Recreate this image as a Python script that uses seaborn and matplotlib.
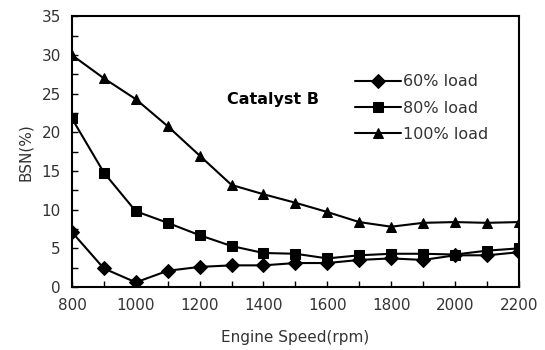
import matplotlib
matplotlib.use("Agg")
import matplotlib.pyplot as plt
from matplotlib.ticker import MultipleLocator
import seaborn as sns
import pandas as pd

speeds = [800, 900, 1000, 1100, 1200, 1300, 1400, 1500, 1600, 1700, 1800, 1900, 2000, 2100, 2200]
load_60 = [7.1, 2.4, 0.6, 2.1, 2.6, 2.8, 2.8, 3.1, 3.1, 3.5, 3.7, 3.5, 4.1, 4.1, 4.5]
load_80 = [21.8, 14.8, 9.8, 8.3, 6.7, 5.3, 4.4, 4.3, 3.7, 4.1, 4.3, 4.3, 4.2, 4.7, 5.0]
load_100 = [30.0, 27.0, 24.3, 20.8, 17.0, 13.2, 12.0, 10.9, 9.7, 8.4, 7.8, 8.3, 8.4, 8.3, 8.4]
series_names = ["60% load", "80% load", "100% load"]
x_label = "Engine Speed(rpm)"
y_label = "BSN(%)"
annotation = "Catalyst B"

df = pd.concat([
    pd.DataFrame({"speed": speeds, "bsn": vals, "load": name})
    for name, vals in zip(series_names, [load_60, load_80, load_100])
])

sns.set_theme(style="white")
plt.rcParams["font.family"] = ["DejaVu Sans"]

fig, ax = plt.subplots(figsize=(5.45, 3.5), dpi=100)
fig.subplots_adjust(left=0.132, right=0.952, top=0.953, bottom=0.18)

sns.lineplot(data=df, x="speed", y="bsn", hue="load", style="load",
             markers=["D", "s", "^"], dashes=False,
             palette=["black"] * 3, linewidth=1.5, markersize=7,
             markeredgecolor="black", ax=ax)

ax.set_xlim(800, 2200)
ax.set_ylim(0, 35)
ax.xaxis.set_major_locator(MultipleLocator(200))
ax.xaxis.set_minor_locator(MultipleLocator(100))
ax.yaxis.set_major_locator(MultipleLocator(5))
ax.yaxis.set_minor_locator(MultipleLocator(2.5))
ax.tick_params(which="both", direction="in", length=4, width=1, color="black",
               bottom=True, left=True, labelsize=11, labelcolor="#333333", pad=8)
for s in ax.spines.values():
    s.set_color("black")
    s.set_linewidth(1.5)

ax.set_xlabel(x_label, fontsize=11, color="#333333", labelpad=12)
ax.set_ylabel(y_label, fontsize=11, color="#333333", labelpad=6)

ax.text(1285, 24.3, annotation, fontsize=11.5, fontweight="bold",
        va="center", ha="left", color="black")

leg = ax.legend(frameon=False, loc="upper left", bbox_to_anchor=(0.615, 0.815),
                fontsize=11.5, handlelength=2.9, handletextpad=0.1,
                labelspacing=0.7, borderpad=0)
for t in leg.get_texts():
    t.set_color("#333333")

fig.savefig("out.png", dpi=100)
